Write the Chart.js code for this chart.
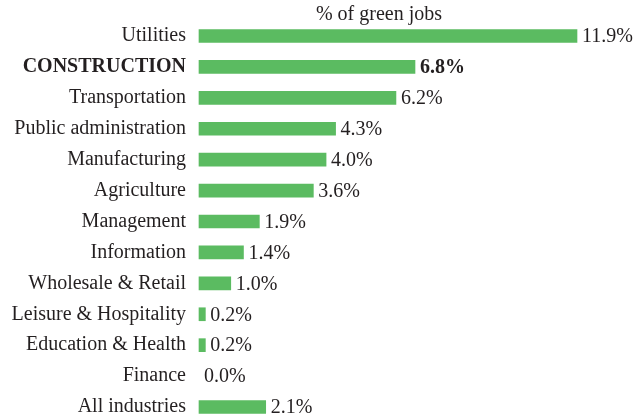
<!DOCTYPE html>
<html>
<head>
<meta charset="utf-8">
<script src="https://cdn.jsdelivr.net/npm/chart.js@4/dist/chart.umd.min.js"></script>
<style>
  html, body { margin: 0; padding: 0; background: #ffffff; }
  #wrap { width: 635px; height: 420px; position: relative; }
</style>
</head>
<body>
<div id="wrap"><canvas id="c" width="635" height="420"></canvas></div>
<script>
const categories = [
  "Utilities", "CONSTRUCTION", "Transportation", "Public administration",
  "Manufacturing", "Agriculture", "Management", "Information",
  "Wholesale & Retail", "Leisure & Hospitality", "Education & Health",
  "Finance", "All industries"
];
const greenJobsPct = [11.9, 6.8, 6.2, 4.3, 4.0, 3.6, 1.9, 1.4, 1.0, 0.2, 0.2, 0.0, 2.1];
const highlightIndex = 1;
const chartTitle = "% of green jobs";

const FONT = "'Liberation Serif', 'Times New Roman', serif";
const TEXT = "#231f20";
const GREEN = "#5bbb61";

const valueLabels = {
  id: 'valueLabels',
  afterDatasetsDraw(chart) {
    const ctx = chart.ctx;
    const meta = chart.getDatasetMeta(0);
    ctx.save();
    ctx.fillStyle = TEXT;
    ctx.textBaseline = 'middle';
    ctx.textAlign = 'left';
    meta.data.forEach((bar, i) => {
      ctx.font = (i === highlightIndex ? 'bold ' : '') + '20px ' + FONT;
      ctx.fillText(greenJobsPct[i].toFixed(1) + '%', bar.x + 5, bar.y + 1);
    });
    ctx.restore();
  }
};

const titlePlugin = {
  id: 'topTitle',
  afterDraw(chart) {
    const ctx = chart.ctx;
    const area = chart.chartArea;
    ctx.save();
    ctx.fillStyle = TEXT;
    ctx.font = '20px ' + FONT;
    ctx.textAlign = 'center';
    ctx.textBaseline = 'alphabetic';
    ctx.fillText(chartTitle, (area.left + area.right) / 2 - 9, 20);
    ctx.restore();
  }
};

new Chart(document.getElementById('c'), {
  type: 'bar',
  data: {
    labels: categories,
    datasets: [{
      data: greenJobsPct,
      backgroundColor: (c) => (c.raw === 0 ? 'rgba(0,0,0,0)' : GREEN),
      borderWidth: 0,
      barThickness: 13,
      clip: false
    }]
  },
  options: {
    indexAxis: 'y',
    responsive: false,
    animation: false,
    layout: { padding: { left: 0, right: 58, top: 36, bottom: 13 } },
    plugins: {
      legend: { display: false },
      tooltip: { enabled: false },
      title: { display: false }
    },
    scales: {
      x: {
        display: false,
        min: 0,
        max: 11.9
      },
      y: {
        offset: false,
        grid: { display: false, drawTicks: false },
        border: { display: false },
        ticks: {
          color: TEXT,
          padding: 13,
          autoSkip: false,
          font: (c) => ({ family: FONT, size: 20, weight: c.index === highlightIndex ? 'bold' : 'normal' })
        },
        afterFit(scale) {
          scale.width = 199;
          scale.paddingTop = 0;
          scale.paddingBottom = 0;
        }
      }
    }
  },
  plugins: [valueLabels, titlePlugin]
});
</script>
</body>
</html>
